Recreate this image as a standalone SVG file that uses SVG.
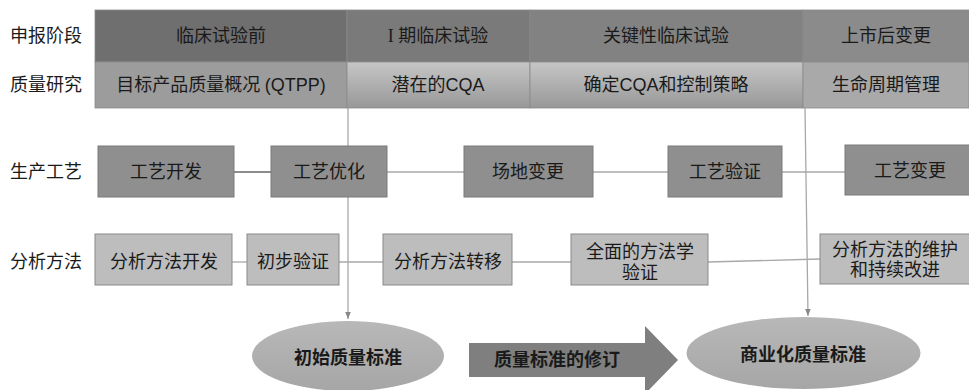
<svg xmlns="http://www.w3.org/2000/svg" width="969" height="390" viewBox="0 0 969 390">
<style>
text{font-family:"Liberation Serif","Noto Sans CJK SC",serif;font-size:18px;fill:#1a1a1a;text-anchor:middle;dominant-baseline:central}
.lbl{font-size:18px;text-anchor:start}
.sm{font-size:17px}
.bd{font-weight:bold}
.lat{font-family:"Liberation Sans","Noto Sans CJK SC",sans-serif}
.pbox{fill:#8f8f8f;stroke:#7a7a7a;stroke-width:1}
.abox{fill:#bdbdbd;stroke:#8a8a8a;stroke-width:1}
.cell{stroke:#8a8a8a;stroke-width:0.8}
.conn{stroke:#a8a8a8;stroke-width:1.3;fill:none}
.ell{fill:url(#eg);stroke:none}
</style>
<defs>
<linearGradient id="lg" x1="0" y1="0" x2="0" y2="1">
<stop offset="0" stop-color="#c6c6c6"/><stop offset="1" stop-color="#989898"/>
</linearGradient>
<linearGradient id="eg" x1="0" y1="0" x2="0" y2="1">
<stop offset="0" stop-color="#b8b8b8"/><stop offset="1" stop-color="#a6a6a6"/>
</linearGradient>
<marker id="ah" viewBox="0 0 10 10" refX="10" refY="5" markerWidth="7" markerHeight="7" markerUnits="userSpaceOnUse" orient="auto">
<path d="M0,1 L10,5 L0,9 Z" fill="#888"/>
</marker>
</defs>

<g id="labels">
<text class="lbl" x="10" y="36">申报阶段</text>
<text class="lbl" x="10" y="85">质量研究</text>
<text class="lbl" x="10" y="172">生产工艺</text>
<text class="lbl" x="10" y="262">分析方法</text>
</g>

<g id="table">
<rect class="cell" x="95" y="10" width="252" height="52" fill="#6f6f6f"/>
<rect class="cell" x="347" y="10" width="183" height="52" fill="#7a7a7a"/>
<rect class="cell" x="530" y="10" width="273" height="52" fill="#828282"/>
<rect class="cell" x="803" y="10" width="166" height="52" fill="#8b8b8b"/>
<rect class="cell" x="95" y="62" width="252" height="46" fill="#9c9c9c"/>
<rect class="cell" x="347" y="62" width="183" height="46" fill="url(#lg)"/>
<rect class="cell" x="530" y="62" width="273" height="46" fill="url(#lg)"/>
<rect class="cell" x="803" y="62" width="166" height="46" fill="#a9a9a9"/>
<text x="221" y="36">临床试验前</text>
<text x="438" y="36">I 期临床试验</text>
<text x="666" y="36">关键性临床试验</text>
<text x="886" y="36">上市后变更</text>
<text x="221" y="85">目标产品质量概况 <tspan class="lat">(QTPP)</tspan></text>
<text x="438" y="85">潜在的<tspan class="lat">CQA</tspan></text>
<text x="666" y="85">确定<tspan class="lat">CQA</tspan>和控制策略</text>
<text x="886" y="85">生命周期管理</text>
</g>

<g id="connectors">
<line class="conn" x1="348" y1="108" x2="348" y2="319" marker-end="url(#ah)"/>
<line class="conn" x1="805" y1="108" x2="808" y2="316" marker-end="url(#ah)"/>
<line x1="234" y1="172" x2="271" y2="172" stroke="#666" stroke-width="1.3"/>
<line class="conn" x1="387" y1="172" x2="464" y2="172"/>
<line class="conn" x1="593" y1="172" x2="668" y2="172"/>
<line class="conn" x1="782" y1="172" x2="845" y2="172"/>
<line class="conn" x1="232" y1="262" x2="247" y2="262"/>
<line class="conn" x1="339" y1="262" x2="383" y2="262"/>
<line class="conn" x1="512" y1="262" x2="571" y2="262"/>
<line class="conn" x1="708" y1="262" x2="820" y2="259"/>
</g>

<g id="p1"><rect class="pbox" x="98" y="146" width="136" height="51"/><text x="166" y="172">工艺开发</text></g>
<g id="p2"><rect class="pbox" x="271" y="146" width="116" height="51"/><text x="329" y="172">工艺优化</text></g>
<g id="p3"><rect class="pbox" x="464" y="146" width="129" height="51"/><text x="528" y="172">场地变更</text></g>
<g id="p4"><rect class="pbox" x="668" y="146" width="114" height="51"/><text x="725" y="172">工艺验证</text></g>
<g id="p5"><rect class="pbox" x="845" y="145" width="125" height="50"/><text x="910" y="171">工艺变更</text></g>

<g id="a1"><rect class="abox" x="95" y="234" width="137" height="51"/><text x="164" y="262">分析方法开发</text></g>
<g id="a2"><rect class="abox" x="247" y="234" width="92" height="51"/><text x="293" y="262">初步验证</text></g>
<g id="a3"><rect class="abox" x="383" y="234" width="129" height="51"/><text x="448" y="262">分析方法转移</text></g>
<g id="a4"><rect class="abox" x="571" y="234" width="137" height="51"/><text x="640" y="252">全面的方法学</text><text x="640" y="273">验证</text></g>
<g id="a5"><rect class="abox" x="820" y="234" width="150" height="50"/><text x="895" y="250">分析方法的维护</text><text x="895" y="270">和持续改进</text></g>

<g id="e1"><ellipse class="ell" cx="348" cy="356" rx="96" ry="35"/><text class="bd" x="348" y="358">初始质量标准</text></g>
<g id="rev"><path d="M469,343 L645,343 L645,326 L678,360 L645,394 L645,377 L469,377 Z" fill="#7f7f7f"/><text class="bd" x="557" y="360">质量标准的修订</text></g>
<g id="e2"><ellipse class="ell" cx="803.5" cy="353" rx="117" ry="36"/><text class="bd" x="803" y="355">商业化质量标准</text></g>
</svg>
